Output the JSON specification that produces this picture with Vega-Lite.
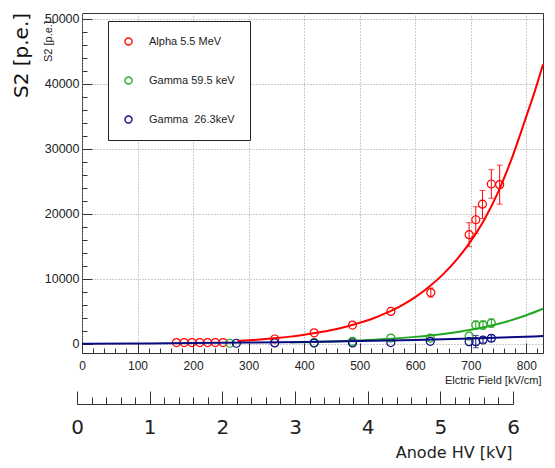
{
  "$schema": "https://vega.github.io/schema/vega-lite/v6.json",
  "autosize": {"type": "none"},
  "width": 461,
  "height": 340,
  "padding": {"left": 82, "top": 13, "right": 12, "bottom": 115},
  "background": "white",
  "config": {"view": {"stroke": "#333", "strokeWidth": 1}},
  "datasets": {
    "pts": [
      {"field": 170, "s2": 200, "series": "Alpha 5.5 MeV"},
      {"field": 184, "s2": 200, "series": "Alpha 5.5 MeV"},
      {"field": 198, "s2": 200, "series": "Alpha 5.5 MeV"},
      {"field": 212, "s2": 200, "series": "Alpha 5.5 MeV"},
      {"field": 226, "s2": 200, "series": "Alpha 5.5 MeV"},
      {"field": 240, "s2": 200, "series": "Alpha 5.5 MeV"},
      {"field": 254, "s2": 200, "series": "Alpha 5.5 MeV"},
      {"field": 347, "s2": 750, "series": "Alpha 5.5 MeV"},
      {"field": 418, "s2": 1700, "series": "Alpha 5.5 MeV"},
      {"field": 487, "s2": 2900, "series": "Alpha 5.5 MeV"},
      {"field": 556, "s2": 5000, "series": "Alpha 5.5 MeV"},
      {"field": 628, "s2": 7900, "series": "Alpha 5.5 MeV"},
      {"field": 697, "s2": 16800, "series": "Alpha 5.5 MeV"},
      {"field": 709, "s2": 19100, "series": "Alpha 5.5 MeV"},
      {"field": 721, "s2": 21500, "series": "Alpha 5.5 MeV"},
      {"field": 737, "s2": 24600, "series": "Alpha 5.5 MeV"},
      {"field": 752, "s2": 24500, "series": "Alpha 5.5 MeV"},
      {"field": 266, "s2": 100, "series": "Gamma 59.5 keV"},
      {"field": 418, "s2": 200, "series": "Gamma 59.5 keV"},
      {"field": 487, "s2": 400, "series": "Gamma 59.5 keV"},
      {"field": 556, "s2": 900, "series": "Gamma 59.5 keV"},
      {"field": 627, "s2": 900, "series": "Gamma 59.5 keV"},
      {"field": 697, "s2": 1200, "series": "Gamma 59.5 keV"},
      {"field": 709, "s2": 2900, "series": "Gamma 59.5 keV"},
      {"field": 722, "s2": 2900, "series": "Gamma 59.5 keV"},
      {"field": 737, "s2": 3200, "series": "Gamma 59.5 keV"},
      {"field": 278, "s2": 100, "series": "Gamma \u00a026.3keV"},
      {"field": 347, "s2": 150, "series": "Gamma \u00a026.3keV"},
      {"field": 418, "s2": 120, "series": "Gamma \u00a026.3keV"},
      {"field": 487, "s2": 150, "series": "Gamma \u00a026.3keV"},
      {"field": 556, "s2": 200, "series": "Gamma \u00a026.3keV"},
      {"field": 627, "s2": 400, "series": "Gamma \u00a026.3keV"},
      {"field": 697, "s2": 350, "series": "Gamma \u00a026.3keV"},
      {"field": 709, "s2": 350, "series": "Gamma \u00a026.3keV"},
      {"field": 722, "s2": 600, "series": "Gamma \u00a026.3keV"},
      {"field": 737, "s2": 870, "series": "Gamma \u00a026.3keV"}
    ],
    "err": [
      {"field": 628, "lo": 7200, "hi": 8600, "series": "Alpha 5.5 MeV"},
      {"field": 697, "lo": 14950, "hi": 18650, "series": "Alpha 5.5 MeV"},
      {"field": 709, "lo": 17000, "hi": 21100, "series": "Alpha 5.5 MeV"},
      {"field": 721, "lo": 19300, "hi": 23600, "series": "Alpha 5.5 MeV"},
      {"field": 737, "lo": 22400, "hi": 26800, "series": "Alpha 5.5 MeV"},
      {"field": 752, "lo": 21500, "hi": 27500, "series": "Alpha 5.5 MeV"},
      {"field": 709, "lo": 2250, "hi": 3550, "series": "Gamma 59.5 keV"},
      {"field": 722, "lo": 2250, "hi": 3550, "series": "Gamma 59.5 keV"},
      {"field": 737, "lo": 2550, "hi": 3850, "series": "Gamma 59.5 keV"},
      {"field": 709, "lo": -600, "hi": 1300, "series": "Gamma \u00a026.3keV"},
      {"field": 722, "lo": 150, "hi": 1100, "series": "Gamma \u00a026.3keV"},
      {"field": 737, "lo": 400, "hi": 1350, "series": "Gamma \u00a026.3keV"}
    ],
    "fit": [
      {"field": 280, "s2": 430, "series": "Alpha 5.5 MeV"},
      {"field": 300, "s2": 550, "series": "Alpha 5.5 MeV"},
      {"field": 325, "s2": 700, "series": "Alpha 5.5 MeV"},
      {"field": 350, "s2": 890, "series": "Alpha 5.5 MeV"},
      {"field": 375, "s2": 1120, "series": "Alpha 5.5 MeV"},
      {"field": 400, "s2": 1400, "series": "Alpha 5.5 MeV"},
      {"field": 425, "s2": 1750, "series": "Alpha 5.5 MeV"},
      {"field": 450, "s2": 2150, "series": "Alpha 5.5 MeV"},
      {"field": 475, "s2": 2650, "series": "Alpha 5.5 MeV"},
      {"field": 500, "s2": 3250, "series": "Alpha 5.5 MeV"},
      {"field": 525, "s2": 3950, "series": "Alpha 5.5 MeV"},
      {"field": 550, "s2": 4850, "series": "Alpha 5.5 MeV"},
      {"field": 575, "s2": 5900, "series": "Alpha 5.5 MeV"},
      {"field": 600, "s2": 7200, "series": "Alpha 5.5 MeV"},
      {"field": 625, "s2": 8800, "series": "Alpha 5.5 MeV"},
      {"field": 650, "s2": 10700, "series": "Alpha 5.5 MeV"},
      {"field": 675, "s2": 13000, "series": "Alpha 5.5 MeV"},
      {"field": 700, "s2": 15800, "series": "Alpha 5.5 MeV"},
      {"field": 725, "s2": 19200, "series": "Alpha 5.5 MeV"},
      {"field": 750, "s2": 23500, "series": "Alpha 5.5 MeV"},
      {"field": 775, "s2": 28800, "series": "Alpha 5.5 MeV"},
      {"field": 800, "s2": 35000, "series": "Alpha 5.5 MeV"},
      {"field": 815, "s2": 38800, "series": "Alpha 5.5 MeV"},
      {"field": 830, "s2": 43000, "series": "Alpha 5.5 MeV"},
      {"field": 375, "s2": 220, "series": "Gamma 59.5 keV"},
      {"field": 400, "s2": 265, "series": "Gamma 59.5 keV"},
      {"field": 450, "s2": 375, "series": "Gamma 59.5 keV"},
      {"field": 500, "s2": 535, "series": "Gamma 59.5 keV"},
      {"field": 550, "s2": 760, "series": "Gamma 59.5 keV"},
      {"field": 600, "s2": 1080, "series": "Gamma 59.5 keV"},
      {"field": 650, "s2": 1530, "series": "Gamma 59.5 keV"},
      {"field": 700, "s2": 2180, "series": "Gamma 59.5 keV"},
      {"field": 750, "s2": 3100, "series": "Gamma 59.5 keV"},
      {"field": 800, "s2": 4400, "series": "Gamma 59.5 keV"},
      {"field": 830, "s2": 5400, "series": "Gamma 59.5 keV"},
      {"field": 0, "s2": 30, "series": "Gamma \u00a026.3keV"},
      {"field": 100, "s2": 70, "series": "Gamma \u00a026.3keV"},
      {"field": 200, "s2": 120, "series": "Gamma \u00a026.3keV"},
      {"field": 300, "s2": 200, "series": "Gamma \u00a026.3keV"},
      {"field": 400, "s2": 300, "series": "Gamma \u00a026.3keV"},
      {"field": 500, "s2": 430, "series": "Gamma \u00a026.3keV"},
      {"field": 600, "s2": 600, "series": "Gamma \u00a026.3keV"},
      {"field": 700, "s2": 820, "series": "Gamma \u00a026.3keV"},
      {"field": 830, "s2": 1200, "series": "Gamma \u00a026.3keV"}
    ],
    "hv": [{"hv": 0}, {"hv": 6}]
  },
  "resolve": {"scale": {"x": "independent"}, "axis": {"x": "independent", "y": "independent"}},
  "layer": [
    {
      "data": {"name": "pts"},
      "mark": {"type": "point", "shape": "circle", "filled": false, "size": 64, "strokeWidth": 1.2, "opacity": 1},
      "encoding": {
        "x": {"field": "field", "type": "quantitative",
          "scale": {"domain": [0, 830], "nice": false, "zero": false},
          "axis": {"orient": "bottom", "values": [20, 40, 60, 80, 120, 140, 160, 180, 220, 240, 260, 280, 320, 340, 360, 380, 420, 440, 460, 480, 520, 540, 560, 580, 620, 640, 660, 680, 720, 740, 760, 780, 820],
            "tickSize": -5, "tickColor": "#333", "labels": false, "domain": false, "grid": false, "title": null}},
        "y": {"field": "s2", "type": "quantitative",
          "scale": {"domain": [-1400, 50900], "nice": false, "zero": false},
          "axis": {"orient": "left", "values": [2000, 4000, 6000, 8000, 12000, 14000, 16000, 18000, 22000, 24000, 26000, 28000, 32000, 34000, 36000, 38000, 42000, 44000, 46000, 48000],
            "tickSize": -5, "tickColor": "#333", "labels": false, "domain": false, "grid": false,
            "title": "S2 [p.e.]", "titleX": -34, "titleY": 28, "titleAngle": 270, "titleAlign": "center",
            "titleBaseline": "middle", "titleFontSize": 11, "titleFont": "Liberation Sans", "titleFontWeight": "normal",
            "titleColor": "#222"}},
        "color": {"field": "series", "type": "nominal",
          "scale": {"domain": ["Alpha 5.5 MeV", "Gamma 59.5 keV", "Gamma \u00a026.3keV"], "range": ["#ff0000", "#22a822", "#0a0a80"]},
          "legend": {"orient": "none", "legendX": 26, "legendY": 8, "title": null, "padding": 15,
            "strokeColor": "#222", "fillColor": "white", "labelFont": "Liberation Sans", "labelFontSize": 11,
            "labelColor": "#222", "labelOffset": 15, "rowPadding": 27, "symbolSize": 64, "symbolStrokeWidth": 0.5,
            "symbolType": "M -1 0 A 1 1 0 1 0 1 0 A 1 1 0 1 0 -1 0 Z M -0.78 0 A 0.78 0.78 0 1 1 0.78 0 A 0.78 0.78 0 1 1 -0.78 0 Z",
            "direction": "vertical"}}
      }
    },
    {
      "data": {"name": "fit"},
      "mark": {"type": "line", "strokeWidth": 2, "interpolate": "monotone"},
      "encoding": {
        "x": {"field": "field", "type": "quantitative",
          "scale": {"domain": [0, 830], "nice": false, "zero": false},
          "axis": {"orient": "bottom", "values": [0, 100, 200, 300, 400, 500, 600, 700, 800], "format": "d",
            "tickSize": -10, "tickColor": "#333", "labelPadding": 17, "labelFontSize": 12, "labelFont": "Liberation Sans",
            "labelColor": "#222", "labelFlush": false, "grid": true, "gridDash": [1, 2], "gridColor": "#999",
            "domain": false, "title": "Elctric Field [kV/cm]", "titleX": 459, "titleY": 27, "titleAlign": "right",
            "titleBaseline": "middle", "titleFontSize": 11, "titleFont": "Liberation Sans", "titleFontWeight": "normal",
            "titleColor": "#222"}},
        "y": {"field": "s2", "type": "quantitative",
          "scale": {"domain": [-1400, 50900], "nice": false, "zero": false},
          "axis": {"orient": "left", "values": [0, 10000, 20000, 30000, 40000, 50000], "format": "d",
            "tickSize": -10, "tickColor": "#333", "labelPadding": 13, "labelFontSize": 12.5, "labelFont": "Liberation Sans",
            "labelColor": "#222", "grid": true, "gridDash": [1, 2], "gridColor": "#999", "domain": false,
            "title": "S2 [p.e.]", "titleX": -61, "titleY": 42, "titleAngle": 270, "titleAlign": "center",
            "titleBaseline": "middle", "titleFontSize": 20, "titleFont": "DejaVu Sans", "titleFontWeight": "normal",
            "titleColor": "#111"}},
        "stroke": {"field": "series", "type": "nominal",
          "scale": {"domain": ["Alpha 5.5 MeV", "Gamma 59.5 keV", "Gamma \u00a026.3keV"], "range": ["#ff0000", "#22a822", "#0a0a80"]},
          "legend": null}
      }
    },
    {
      "data": {"name": "err"},
      "mark": {"type": "rule", "strokeWidth": 1},
      "encoding": {
        "x": {"field": "field", "type": "quantitative", "scale": {"domain": [0, 830], "nice": false, "zero": false}, "axis": null},
        "y": {"field": "lo", "type": "quantitative", "scale": {"domain": [-1400, 50900], "nice": false, "zero": false}, "axis": null},
        "y2": {"field": "hi"},
        "stroke": {"field": "series", "type": "nominal", "legend": null}
      }
    },
    {
      "data": {"name": "err"},
      "mark": {"type": "tick", "orient": "horizontal", "size": 6, "thickness": 1},
      "encoding": {
        "x": {"field": "field", "type": "quantitative", "scale": {"domain": [0, 830], "nice": false, "zero": false}, "axis": null},
        "y": {"field": "lo", "type": "quantitative", "scale": {"domain": [-1400, 50900], "nice": false, "zero": false}, "axis": null},
        "fill": {"field": "series", "type": "nominal",
          "scale": {"domain": ["Alpha 5.5 MeV", "Gamma 59.5 keV", "Gamma \u00a026.3keV"], "range": ["#ff0000", "#22a822", "#0a0a80"]},
          "legend": null}
      }
    },
    {
      "data": {"name": "err"},
      "mark": {"type": "tick", "orient": "horizontal", "size": 6, "thickness": 1},
      "encoding": {
        "x": {"field": "field", "type": "quantitative", "scale": {"domain": [0, 830], "nice": false, "zero": false}, "axis": null},
        "y": {"field": "hi", "type": "quantitative", "scale": {"domain": [-1400, 50900], "nice": false, "zero": false}, "axis": null},
        "fill": {"field": "series", "type": "nominal", "legend": null}
      }
    },
    {
      "data": {"name": "hv"},
      "mark": {"type": "point", "opacity": 0},
      "encoding": {
        "x": {"field": "hv", "type": "quantitative",
          "scale": {"domain": [0, 6], "range": [-5, 431], "nice": false, "zero": false},
          "axis": {"orient": "bottom", "offset": 51, "values": [0, 1, 2, 3, 4, 5, 6], "format": "d",
            "tickSize": -13, "tickColor": "#333", "domainColor": "#333", "labelPadding": 26, "labelFontSize": 20,
            "labelFont": "DejaVu Sans", "labelColor": "#222", "labelFlush": false, "grid": false,
            "title": "Anode HV [kV]", "titleX": 430, "titleY": 48, "titleAlign": "right", "titleBaseline": "middle",
            "titleFontSize": 16, "titleFont": "DejaVu Sans", "titleFontWeight": "normal", "titleColor": "#222"}}
      }
    },
    {
      "data": {"name": "hv"},
      "mark": {"type": "point", "opacity": 0},
      "encoding": {
        "x": {"field": "hv", "type": "quantitative",
          "scale": {"domain": [0, 6], "range": [-5, 431], "nice": false, "zero": false},
          "axis": {"orient": "bottom", "offset": 51, "values": [0.2, 0.4, 0.6, 0.8, 1.2, 1.4, 1.6, 1.8, 2.2, 2.4, 2.6, 2.8, 3.2, 3.4, 3.6, 3.8, 4.2, 4.4, 4.6, 4.8, 5.2, 5.4, 5.6, 5.8],
            "tickSize": -7, "tickColor": "#333", "labels": false, "domain": false, "grid": false, "title": null}}
      }
    }
  ]
}
